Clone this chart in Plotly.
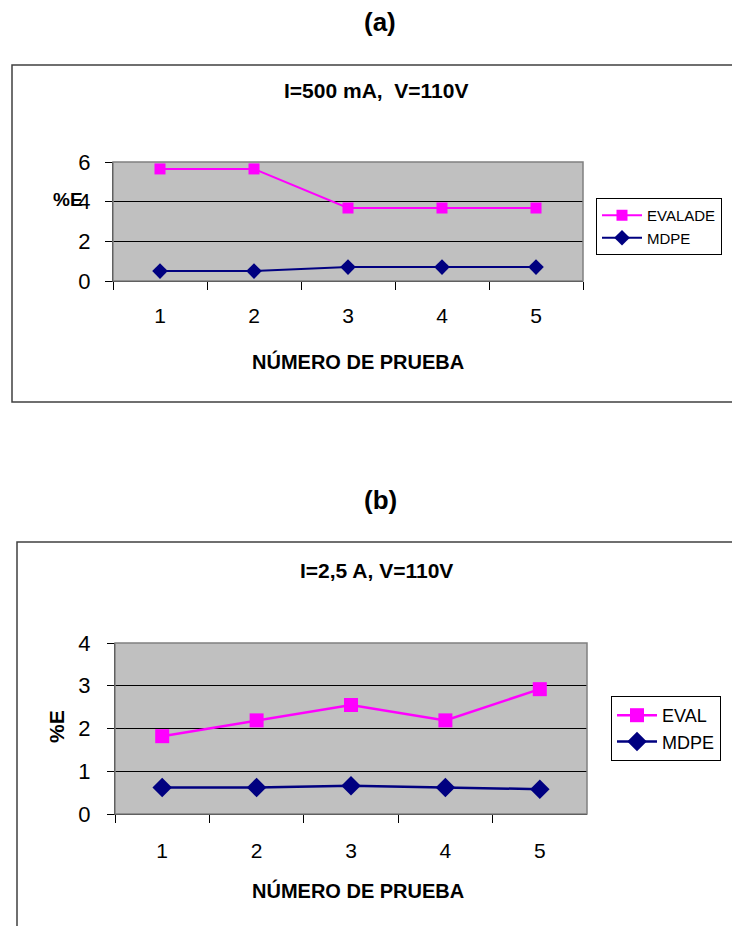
import plotly.graph_objects as go

W, H = 732, 926

tests = ["1", "2", "3", "4", "5"]
evalade_a = [5.65, 5.65, 3.68, 3.68, 3.68]
mdpe_a = [0.5, 0.5, 0.7, 0.7, 0.7]
eval_b = [1.82, 2.19, 2.55, 2.19, 2.92]
mdpe_b = [0.62, 0.62, 0.66, 0.62, 0.58]

y_ticks_a = [0, 2, 4, 6]
y_ticks_b = [0, 1, 2, 3, 4]

MAG = "#FF00FF"
NAVY = "#000080"
FONT = "Liberation Sans, Arial, sans-serif"


def px(x):
    return x / W


def py(y):
    return 1 - y / H


fig = go.Figure()

fig.add_trace(go.Scatter(x=tests, y=evalade_a, name="EVALADE", mode="lines+markers",
                         line=dict(color=MAG, width=2),
                         marker=dict(symbol="square", size=11, color=MAG),
                         xaxis="x", yaxis="y", legend="legend"))
fig.add_trace(go.Scatter(x=tests, y=mdpe_a, name="MDPE", mode="lines+markers",
                         line=dict(color=NAVY, width=2),
                         marker=dict(symbol="diamond", size=12, color=NAVY),
                         xaxis="x", yaxis="y", legend="legend"))
fig.add_trace(go.Scatter(x=tests, y=eval_b, name="EVAL", mode="lines+markers",
                         line=dict(color=MAG, width=2.5),
                         marker=dict(symbol="square", size=14, color=MAG),
                         xaxis="x2", yaxis="y2", legend="legend2"))
fig.add_trace(go.Scatter(x=tests, y=mdpe_b, name="MDPE", mode="lines+markers",
                         line=dict(color=NAVY, width=2.5),
                         marker=dict(symbol="diamond", size=15, color=NAVY),
                         xaxis="x2", yaxis="y2", legend="legend2"))

xcommon = dict(type="category", tickson="boundaries", ticks="outside", ticklen=8,
               tickcolor="black", showline=True, linecolor="black", linewidth=1,
               showgrid=False, zeroline=False, range=[-0.5, 4.5],
               tickfont=dict(family=FONT, size=21, color="black"))
ycommon = dict(ticks="outside", ticklen=7, tickcolor="black", showline=True,
               linecolor="black", linewidth=1, showgrid=True, gridcolor="black",
               gridwidth=1, zeroline=False,
               tickfont=dict(family=FONT, size=22, color="black"))

fig.update_layout(
    width=W, height=H,
    margin=dict(l=0, r=0, t=0, b=0, pad=0, autoexpand=False),
    paper_bgcolor="white",
    plot_bgcolor="#C0C0C0",
    font=dict(family=FONT, color="black"),
    xaxis=dict(domain=[px(113), px(583)], anchor="y", ticklabelstandoff=16, **xcommon),
    yaxis=dict(domain=[py(281), py(162)], anchor="x", range=[0, 6],
               tickvals=y_ticks_a, ticklabelstandoff=10, **ycommon),
    xaxis2=dict(domain=[px(115), px(587)], anchor="y2", ticklabelstandoff=18, **xcommon),
    yaxis2=dict(domain=[py(814), py(643)], anchor="x2", range=[0, 4],
                tickvals=y_ticks_b, ticklabelstandoff=12, **ycommon),
    legend=dict(x=px(596), y=py(198), xanchor="left", yanchor="top",
                bgcolor="white", bordercolor="black", borderwidth=1,
                font=dict(family=FONT, size=15, color="black"), itemwidth=40),
    legend2=dict(x=px(611), y=py(696), xanchor="left", yanchor="top",
                 bgcolor="white", bordercolor="black", borderwidth=1,
                 font=dict(family=FONT, size=18, color="black"), itemwidth=40),
    showlegend=True,
)

shapes = [
    dict(type="rect", xref="paper", yref="paper", x0=px(12), x1=1.01, y0=py(402), y1=py(65),
         line=dict(color="#404040", width=1.5), layer="below"),
    dict(type="rect", xref="paper", yref="paper", x0=px(17), x1=1.01, y0=-0.02, y1=py(542),
         line=dict(color="#404040", width=1.5), layer="below"),
    dict(type="rect", xref="x domain", yref="y domain", x0=0, x1=1, y0=0, y1=1,
         line=dict(color="#808080", width=1.5)),
    dict(type="rect", xref="x2 domain", yref="y2 domain", x0=0, x1=1, y0=0, y1=1,
         line=dict(color="#808080", width=1.5)),
]
fig.update_layout(shapes=shapes)

ann = [
    dict(text="<b>(a)</b>", x=px(380), y=py(22), size=26),
    dict(text="<b>(b)</b>", x=px(380), y=py(500), size=26),
    dict(text="<b>I=500 mA,  V=110V</b>", x=px(376), y=py(91), size=21),
    dict(text="<b>I=2,5 A, V=110V</b>", x=px(376), y=py(570), size=21),
    dict(text="<b>NÚMERO DE PRUEBA</b>", x=px(358), y=py(361), size=20),
    dict(text="<b>NÚMERO DE PRUEBA</b>", x=px(358), y=py(890), size=20),
    dict(text="<b>%E</b>", x=px(68), y=py(200), size=19),
]
annotations = []
for a in ann:
    annotations.append(dict(text=a["text"], x=a["x"], y=a["y"], xref="paper", yref="paper",
                            xanchor="center", yanchor="middle", showarrow=False,
                            font=dict(family=FONT, size=a["size"], color="black")))
annotations.append(dict(text="<b>%E</b>", x=px(56), y=py(727), xref="paper", yref="paper",
                        xanchor="center", yanchor="middle", showarrow=False, textangle=-90,
                        font=dict(family=FONT, size=21, color="black")))
fig.update_layout(annotations=annotations)

fig.write_html("out.html", config={"displayModeBar": False},
               post_script="document.body.style.margin='0px';")
